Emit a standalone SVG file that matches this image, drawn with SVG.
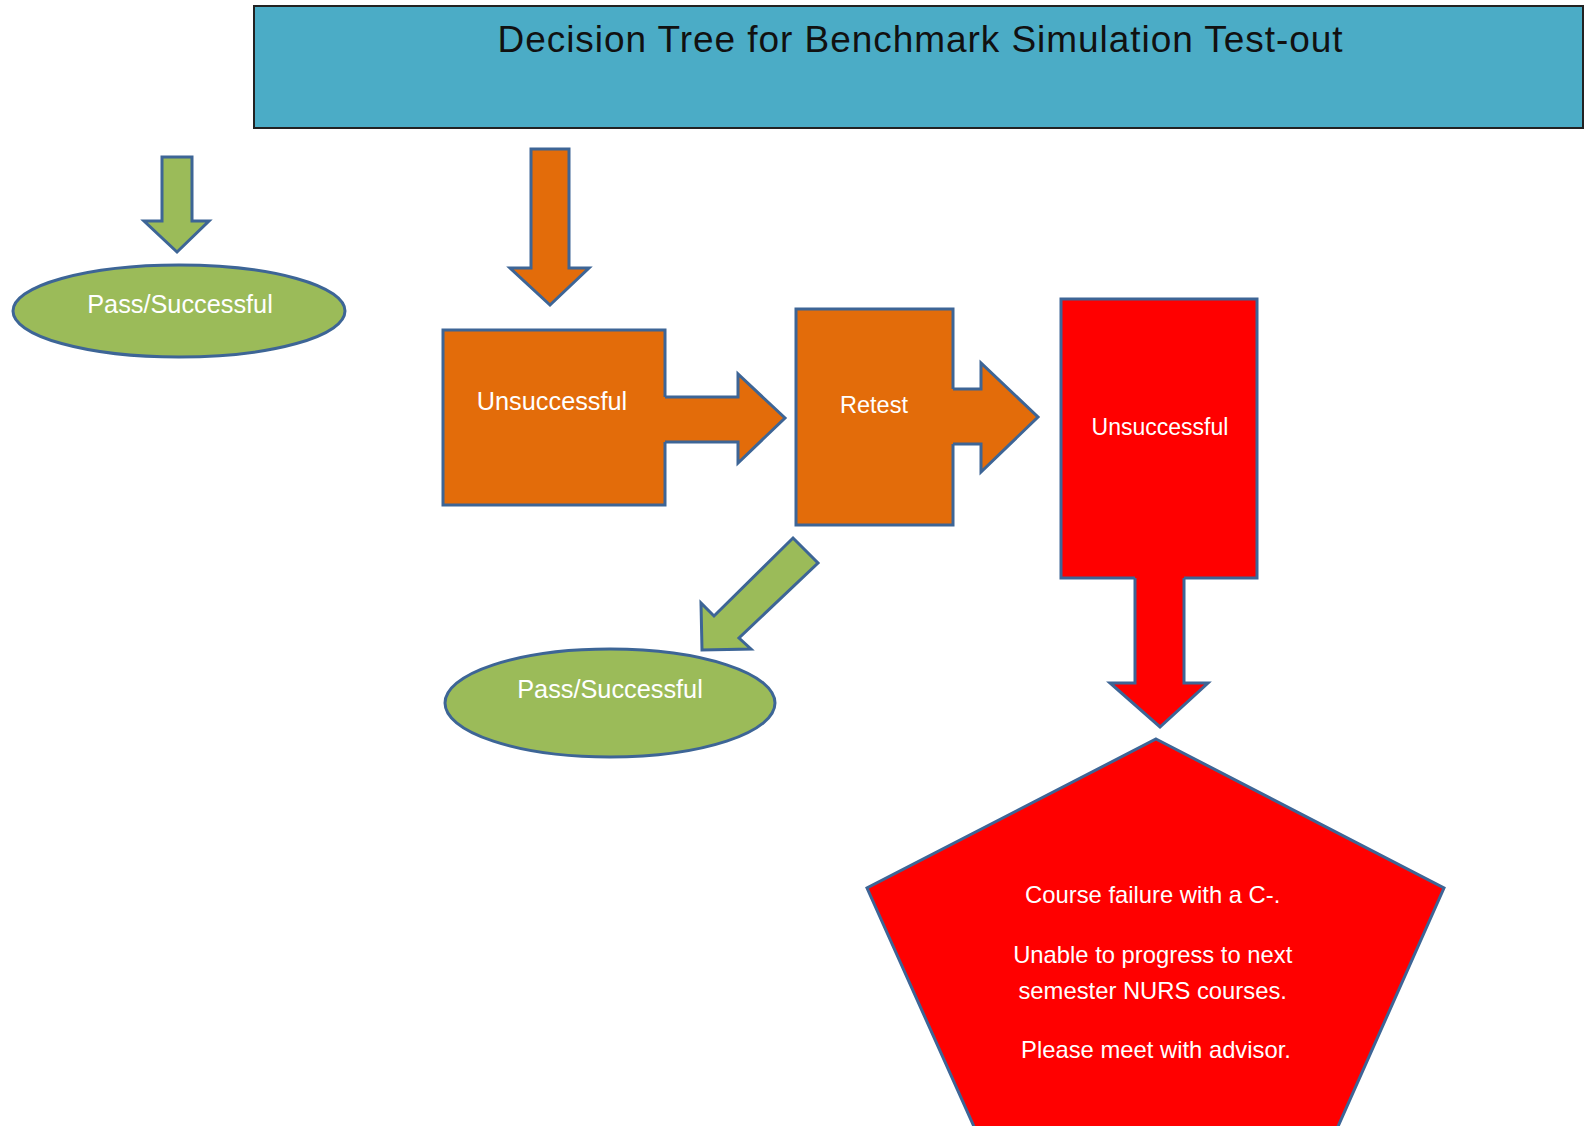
<svg xmlns="http://www.w3.org/2000/svg" width="1585" height="1126" viewBox="0 0 1585 1126">
<style>
.stk{stroke:#3D6596;stroke-width:3;stroke-linejoin:miter}
.green{fill:#9BBB59}
.orange{fill:#E36C0A}
.red{fill:#FF0000}
.line{fill:none;stroke:#3D6596;stroke-width:3}
.lbl{font-family:"Liberation Sans",Arial,sans-serif;fill:#FFFFFF;text-anchor:middle}
</style>
<rect width="1585" height="1126" fill="#FFFFFF"/>
<g id="title">
<rect x="254" y="6" width="1329" height="122" fill="#4BACC6" stroke="#222222" stroke-width="2"/>
<text x="920" y="52" font-family="'Liberation Sans',Arial,sans-serif" font-size="37" fill="#111111" text-anchor="middle" textLength="845">Decision Tree for Benchmark Simulation Test-out</text>
</g>
<g id="pass1">
<ellipse cx="179" cy="311" rx="166" ry="46" class="green stk"/>
<text x="180" y="313" class="lbl" font-size="25.3">Pass/Successful</text>
</g>
<g id="unsuccessful1">
<rect x="443" y="330" width="222" height="175" class="orange stk"/>
<text x="552" y="410" class="lbl" font-size="25.3">Unsuccessful</text>
</g>
<g id="retest">
<rect x="796" y="309" width="157" height="216" class="orange stk"/>
<text x="874" y="413" class="lbl" font-size="23.5">Retest</text>
</g>
<g id="unsuccessful2">
<rect x="1061" y="299" width="196" height="279" class="red stk"/>
<text x="1160" y="435" class="lbl" font-size="23">Unsuccessful</text>
</g>
<g id="pass2">
<ellipse cx="610" cy="703" rx="165" ry="54" class="green stk"/>
<text x="610" y="698" class="lbl" font-size="25.3">Pass/Successful</text>
</g>
<g id="failure">
<polygon points="1156,739 1444,888 1332,1140 980,1140 867,888" class="red stk"/>
<text class="lbl" font-size="23.8">
<tspan x="1156" y="903">Course failure with a C-.</tspan>
<tspan x="1156" y="963">Unable to progress to next</tspan>
<tspan x="1156" y="999">semester NURS courses.</tspan>
<tspan x="1156" y="1058">Please meet with advisor.</tspan>
</text>
</g>
<g id="connectors">
<polygon points="162,157 192,157 192,221 209,221 177,252 144,221 162,221" class="green stk"/>
<polygon points="531,149 569,149 569,268 589,268 550,305 510,268 531,268" class="orange stk"/>
<polygon points="662,397 738,397 738,374 785,418 738,463 738,442 662,442" class="orange"/>
<polyline points="665,397 738,397 738,374 785,418 738,463 738,442 665,442" class="line"/>
<polygon points="950,389 981,389 981,363 1038,417 981,472 981,444 950,444" class="orange"/>
<polyline points="953,389 981,389 981,363 1038,417 981,472 981,444 953,444" class="line"/>
<polygon points="1135,575 1184,575 1184,683 1208,683 1160,727 1110,683 1135,683" class="red"/>
<polyline points="1135,578 1135,683 1110,683 1160,727 1208,683 1184,683 1184,578" class="line"/>
<polygon points="793,538 818,563 739,638 751,649 702,650 701,603 714,616" class="green stk"/>
</g>
</svg>
